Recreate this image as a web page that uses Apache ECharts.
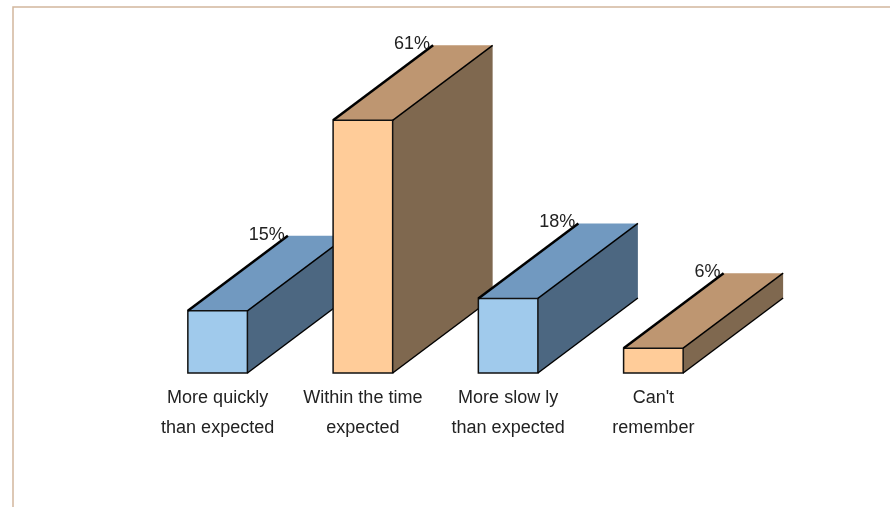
<!DOCTYPE html>
<html>
<head>
<meta charset="utf-8">
<script src="https://cdn.jsdelivr.net/npm/echarts@6/dist/echarts.min.js"></script>
<style>
  html, body { margin: 0; padding: 0; background: #fff; }
  #main { width: 890px; height: 507px; }
</style>
</head>
<body>
<div id="main"></div>
<script>
// data
var categories = ['More quickly\nthan expected', 'Within the time\nexpected', 'More slow ly\nthan expected', "Can't\nremember"];
var percentValues = [15, 61, 18, 6];

// face colours: front, top, side
var blueFaces = ['#A0CAEC', '#7199C0', '#4C6781'];
var orangeFaces = ['#FFCC99', '#BE9671', '#7F684F'];
var barFaces = [blueFaces, orangeFaces, blueFaces, orangeFaces];

// 3d depth offset in pixels
var DX = 100, DY = -75;
var FONT = '18px "Liberation Sans", Arial, sans-serif';

var myChart = echarts.init(document.getElementById('main'));

function renderBox(params, api) {
  var idx = api.value(0);
  var val = api.value(1);
  var top = api.coord([idx, val]);
  var base = api.coord([idx, 0]);
  var w = api.size([1, 0])[0] * 0.41;
  var xL = top[0] - w / 2, xR = top[0] + w / 2;
  var y1 = top[1], y0 = base[1];
  var faces = barFaces[idx];
  var edge = { stroke: '#000', lineWidth: 1.5, fill: null };
  return {
    type: 'group',
    children: [
      { type: 'polygon', shape: { points: [[xL, y1], [xL + DX, y1 + DY], [xR + DX, y1 + DY], [xR, y1]] },
        style: { fill: faces[1] } },
      { type: 'polygon', shape: { points: [[xR, y1], [xR + DX, y1 + DY], [xR + DX, y0 + DY], [xR, y0]] },
        style: { fill: faces[2] } },
      { type: 'rect', shape: { x: xL, y: y1, width: w, height: y0 - y1 },
        style: { fill: faces[0], stroke: '#111', lineWidth: 1.5 } },
      { type: 'line', shape: { x1: xL, y1: y1, x2: xL + DX, y2: y1 + DY }, style: { stroke: '#000', lineWidth: 2.5 } },
      { type: 'line', shape: { x1: xR, y1: y1, x2: xR + DX, y2: y1 + DY }, style: edge },
      { type: 'line', shape: { x1: xR, y1: y0, x2: xR + DX, y2: y0 + DY }, style: edge },
      { type: 'text', style: { text: val + '%', x: xL + DX - 3, y: y1 + DY - 1, align: 'right',
        verticalAlign: 'middle', font: FONT, fill: '#222' } }
    ]
  };
}

var option = {
  animation: false,
  backgroundColor: '#fff',
  grid: { left: 145, right: 164, top: 83, bottom: 134 },
  xAxis: {
    type: 'category',
    data: categories,
    axisLine: { show: false },
    axisTick: { show: false },
    axisLabel: {
      interval: 0,
      margin: 10,
      fontSize: 18,
      lineHeight: 30,
      color: '#222',
      fontFamily: '"Liberation Sans", Arial, sans-serif'
    }
  },
  yAxis: { type: 'value', min: 0, max: 70, show: false },
  graphic: [
    { type: 'polyline', shape: { points: [[13, 507], [13, 7], [890, 7]] },
      style: { stroke: '#D2B79D', lineWidth: 1.5, fill: null } }
  ],
  series: [{
    type: 'custom',
    renderItem: renderBox,
    data: percentValues.map(function (v, i) { return [i, v]; })
  }]
};
myChart.setOption(option);
window.addEventListener('resize', function () {
  myChart.resize();
});
</script>
</body>
</html>
